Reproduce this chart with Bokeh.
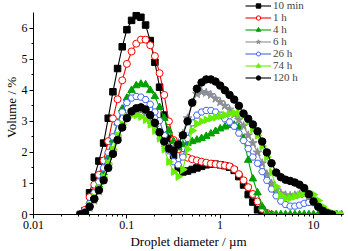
import math
from bokeh.plotting import figure
from bokeh.models import ColumnDataSource, Legend, LegendItem, FixedTicker, NumeralTickFormatter, Range1d
from bokeh.embed import file_html
from bokeh.resources import INLINE

# Droplet diameter bins (µm)
diameter_um = [0.0317, 0.0356, 0.0399, 0.0448, 0.0502, 0.0564, 0.0632, 0.0710, 0.0796, 0.0893,
               0.1002, 0.1125, 0.1262, 0.1416, 0.1589, 0.1783, 0.2000, 0.2244, 0.2518, 0.2825,
               0.3170, 0.3557, 0.3991, 0.4477, 0.5024, 0.5637, 0.6325, 0.7096, 0.7962, 0.8934,
               1.002, 1.125, 1.262, 1.416, 1.589, 1.783, 2.000, 2.244, 2.518, 2.825,
               3.170, 3.557, 3.991, 4.477, 5.024, 5.637, 6.325, 7.096, 7.962, 8.934,
               10.02, 11.25, 12.62, 14.16, 15.89, 17.83, 20.00]

vol_10min = [0.0, 0.12, 0.7, 1.2, 1.72, 2.3, 3.1, 3.95, 4.7, 5.4, 5.95, 6.25, 6.4, 6.35, 6.1, 5.6,
             4.9, 4.1, 3.2, 2.45, 1.9, 1.5, 1.37, 1.4, 1.45, 1.5, 1.55, 1.6, 1.62, 1.62, 1.6, 1.57,
             1.52, 1.42, 1.22, 0.95, 0.64, 0.4, 0.15, 0.0]
vol_1h = [0.0, 0.15, 0.56, 0.96, 1.28, 1.74, 2.36, 3.09, 3.71, 4.32, 4.85, 5.25, 5.5, 5.63, 5.63,
          5.45, 5.1, 4.55, 3.85, 3.0, 2.4, 2.1, 1.92, 1.83, 1.78, 1.74, 1.7, 1.67, 1.64, 1.62, 1.6,
          1.58, 1.55, 1.46, 1.3, 1.1, 0.88, 0.66, 0.42, 0.18, 0.05, 0.0]
vol_4h = [0.0, 0.05, 0.3, 0.6, 0.95, 1.35, 1.85, 2.4, 2.95, 3.4, 3.75, 4.0, 4.15, 4.2, 4.18, 4.0,
          3.8, 3.45, 3.1, 2.7, 2.35, 2.15, 2.25, 2.3, 2.35, 2.4, 2.45, 2.52, 2.6, 2.68, 2.76, 2.82,
          2.87, 2.88, 2.82, 2.45, 1.75, 1.15, 0.7, 0.25, 0.03, 0.0, 0.0, 0.0, 0.0, 0.0, 0.0, 0.0,
          0.0, 0.0, 0.0, 0.0, 0.0, 0.0, 0.0, 0.0, 0.0]
vol_6h = [0.0, 0.05, 0.22, 0.45, 0.75, 1.1, 1.55, 2.0, 2.45, 2.85, 3.15, 3.32, 3.38, 3.35, 3.25,
          3.05, 2.8, 2.55, 2.3, 2.15, 2.15, 2.3, 2.6, 3.1, 3.6, 3.88, 3.95, 3.92, 3.85, 3.73, 3.62,
          3.5, 3.38, 3.22, 3.05, 2.85, 2.55, 2.3, 2.0, 1.65, 1.3, 1.0, 0.8, 0.68, 0.62, 0.6, 0.62,
          0.65, 0.65, 0.6, 0.45, 0.28, 0.12, 0.03, 0.0]
vol_26h = [0.0, 0.08, 0.35, 0.7, 1.05, 1.5, 2.0, 2.5, 2.95, 3.3, 3.6, 3.75, 3.8, 3.78, 3.7, 3.55,
           3.3, 3.02, 2.55, 2.05, 1.7, 1.6, 1.85, 2.45, 2.95, 3.2, 3.3, 3.35, 3.35, 3.3, 3.2, 3.08,
           2.98, 2.84, 2.62, 2.38, 2.12, 1.85, 1.65, 1.38, 1.1, 0.82, 0.6, 0.43, 0.32, 0.27, 0.27,
           0.3, 0.36, 0.39, 0.38, 0.27, 0.13, 0.04, 0.0]
vol_74h = [0.0, 0.05, 0.3, 0.55, 0.85, 1.2, 1.65, 2.1, 2.55, 2.9, 3.1, 3.2, 3.2, 3.15, 3.05, 2.9,
           2.7, 2.45, 2.1, 1.7, 1.38, 1.22, 1.45, 2.1, 2.7, 2.92, 3.0, 3.05, 3.1, 3.13, 3.17, 3.2,
           3.24, 3.26, 3.26, 3.2, 3.0, 2.75, 2.55, 2.2, 1.85, 1.35, 0.9, 0.62, 0.52, 0.53, 0.58,
           0.63, 0.68, 0.71, 0.64, 0.45, 0.25, 0.12, 0.05, 0.01, 0.0]
vol_120h = [0.0, 0.05, 0.25, 0.5, 0.78, 1.1, 1.5, 1.95, 2.4, 2.8, 3.1, 3.32, 3.42, 3.45, 3.38,
            3.2, 2.95, 2.65, 2.35, 2.12, 2.05, 2.25, 2.55, 3.0, 3.6, 4.05, 4.25, 4.35, 4.35, 4.28,
            4.15, 4.0, 3.85, 3.7, 3.5, 3.25, 3.08, 2.9, 2.68, 2.35, 2.0, 1.65, 1.35, 1.2, 1.12,
            1.08, 1.03, 0.96, 0.85, 0.65, 0.42, 0.25, 0.12, 0.04, 0.0]

labels = ["10 min", "1 h", "4 h", "6 h", "26 h", "74 h", "120 h"]
series = [vol_10min, vol_1h, vol_4h, vol_6h, vol_26h, vol_74h, vol_120h]
colors = ["#000000", "#ff0000", "#00a000", "#8a8f96", "#4466ee", "#66ee00", "#000000"]
markers = ["square", "circle", "triangle", "star", "hex", "triangle", "circle"]
fills = ["#000000", "#ffffff", "#00a000", "#8a8f96", "#ffffff", "#66ee00", "#000000"]
sizes = [6.5, 7, 7.5, 9, 7, 7.5, 7.5]
angles = [0, 0, 0, 0, 0, -math.pi / 2, 0]

FONT = "Liberation Serif"
FRAME_W, FRAME_H = 310, 214

p = figure(frame_width=FRAME_W, frame_height=FRAME_H, x_axis_type="log",
           x_range=Range1d(0.01, 21), y_range=Range1d(0, 6.89),
           output_backend="svg", toolbar_location=None,
           min_border_left=26, min_border_right=2, min_border_top=0, min_border_bottom=0)
p.outline_line_color = None
p.grid.visible = False
p.background_fill_color = "white"

items = []
for lab, vals, col, mk, fc, sz, ang in zip(labels, series, colors, markers, fills, sizes, angles):
    src = ColumnDataSource(dict(x=diameter_um[:len(vals)], y=vals))
    r1 = p.line("x", "y", source=src, line_color=col, line_width=1.1)
    r2 = p.scatter("x", "y", source=src, marker=mk, size=sz, line_color=col,
                   fill_color=fc, line_width=1, angle=ang)
    items.append(LegendItem(label=lab, renderers=[r1, r2]))

# axes
minor_x = [d * m for d in (0.01, 0.1, 1, 10) for m in range(2, 10) if d * m <= 21]
p.xaxis.ticker = FixedTicker(ticks=[0.01, 0.1, 1, 10], minor_ticks=minor_x)
p.xaxis.formatter = NumeralTickFormatter(format="0.[00]")
p.yaxis.ticker = FixedTicker(ticks=[0, 1, 2, 3, 4, 5, 6], minor_ticks=[0.5, 1.5, 2.5, 3.5, 4.5, 5.5])
p.yaxis.bounds = (0, 6.5)
p.xaxis.axis_label = "Droplet diameter / µm"
p.yaxis.axis_label = "Volume / %"
for ax in (p.xaxis, p.yaxis):
    ax.axis_label_text_font = FONT
    ax.axis_label_text_font_style = "normal"
    ax.axis_label_text_font_size = "13px"
    ax.axis_label_text_color = "black"
    ax.major_label_text_font = FONT
    ax.major_label_text_font_size = "12px"
    ax.major_label_text_color = "black"
    ax.axis_line_color = "black"
    ax.major_tick_line_color = "black"
    ax.minor_tick_line_color = "black"
    ax.major_tick_in = 0
    ax.major_tick_out = 4
    ax.minor_tick_in = 0
    ax.minor_tick_out = 2
    ax.major_label_standoff = 2
    ax.axis_label_standoff = 2
p.yaxis.axis_label_standoff = 0

legend = Legend(items=items, location=(212, 131))
legend.border_line_color = None
legend.background_fill_alpha = 0
legend.spacing = 0
legend.padding = 0
legend.margin = 0
legend.label_height = 11
legend.glyph_height = 11
legend.glyph_width = 26
legend.label_standoff = 2
legend.label_text_font = FONT
legend.label_text_font_size = "11px"
legend.label_text_line_height = 1.0
p.add_layout(legend)

open("out.html", "w").write(file_html(p, INLINE))
